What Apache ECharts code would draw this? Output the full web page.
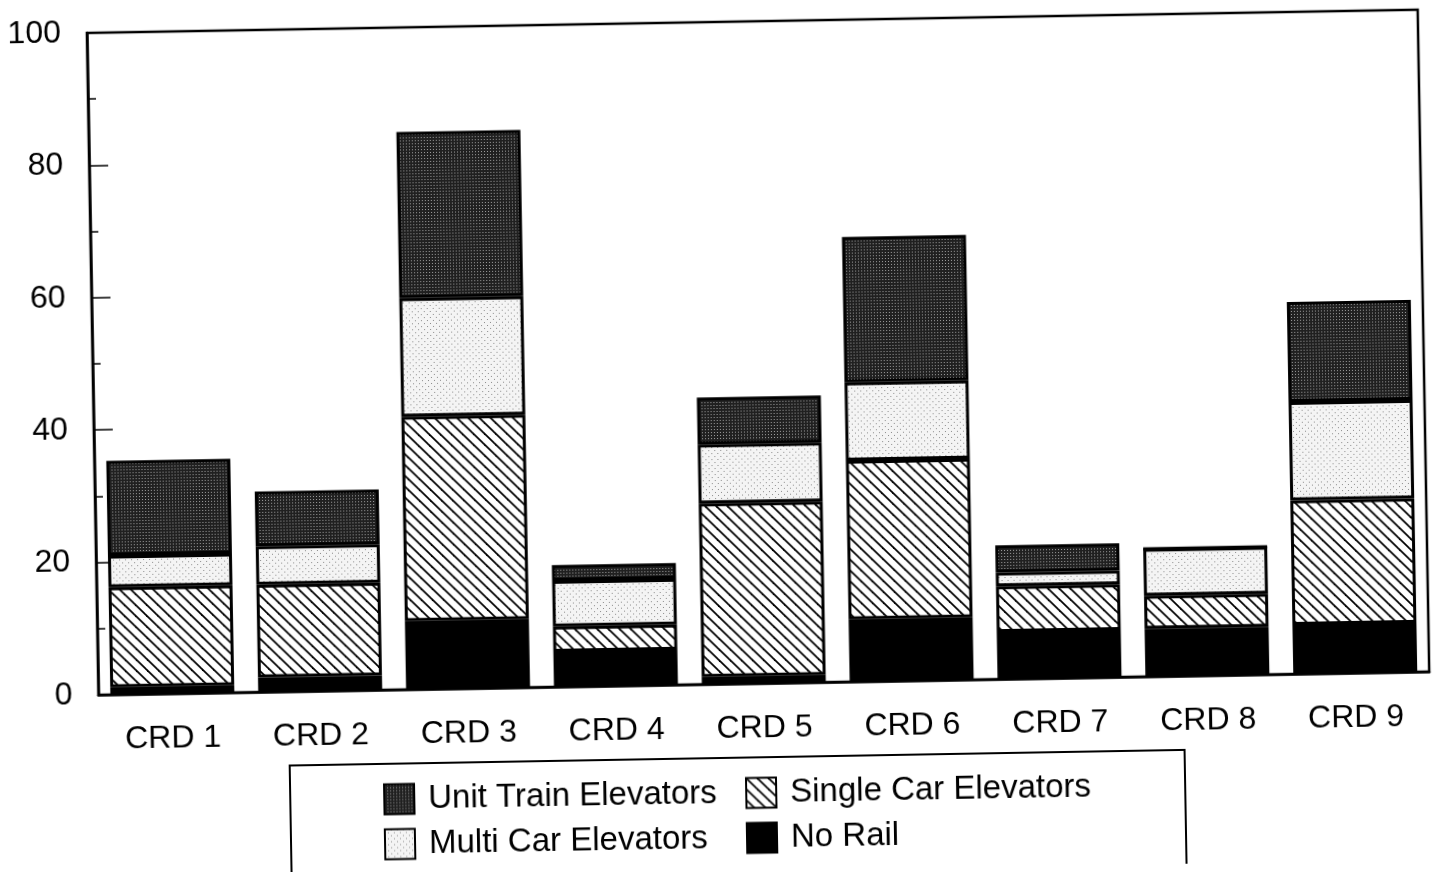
<!DOCTYPE html>
<html>
<head>
<meta charset="utf-8">
<script src="https://cdn.jsdelivr.net/npm/echarts@6/dist/echarts.min.js"></script>
<style>
html,body{margin:0;padding:0;background:#fff;overflow:hidden;}
#main{width:1435px;height:872px;transform:rotate(-1deg);transform-origin:50% 50%;}
</style>
</head>
<body>
<div id="main"></div>
<script>
// ---- data ----
const categories = ['CRD 1','CRD 2','CRD 3','CRD 4','CRD 5','CRD 6','CRD 7','CRD 8','CRD 9'];
const noRail     = [1.1, 2.2, 10.3, 5.3, 1.1,  9.4, 7.1, 7.2,  7.4];
const singleCar  = [15.1, 14.0, 30.9, 3.8, 26.2, 24.0, 6.9, 5.0, 18.8];
const multiCar   = [4.8, 5.8, 17.9, 6.9, 8.9, 11.8, 2.1, 7.1, 14.9];
const unitTrain  = [14.3, 8.3, 25.1, 2.4, 7.1, 22.0, 4.1, 0, 15.1];
const yTicks = [0, 20, 40, 60, 80, 100];

// ---- patterns ----
function makeCanvas(w, h) { const c = document.createElement('canvas'); c.width = w; c.height = h; return c; }
function hatchPattern() {
  const s = 11, c = makeCanvas(s, s), g = c.getContext('2d');
  g.fillStyle = '#fff'; g.fillRect(0, 0, s, s);
  g.strokeStyle = '#000'; g.lineWidth = 1.8;
  for (let k = -1; k <= 1; k++) { g.beginPath(); g.moveTo(k * s - 1, -1); g.lineTo(k * s + s + 1, s + 1); g.stroke(); }
  return c;
}
function stipple(base, dot, dense) {
  const s = 6, c = makeCanvas(s, s), g = c.getContext('2d');
  g.fillStyle = base; g.fillRect(0, 0, s, s);
  g.fillStyle = dot;
  g.fillRect(0, 0, 1, 1); g.fillRect(3, 3, 1, 1);
  if (dense) { g.fillRect(3, 0, 1, 1); g.fillRect(0, 3, 1, 1); }
  return c;
}
const darkStip = { image: stipple('#202020', '#a0a0a0', true), repeat: 'repeat' };
const lightStip = { image: stipple('#f4f4f4', '#8a8a8a', false), repeat: 'repeat' };
const hatch = { image: hatchPattern(), repeat: 'repeat' };

const chart = echarts.init(document.getElementById('main'));
const border = { borderColor: '#000', borderWidth: 3 };
function bar(name, data, color) {
  return { name, type: 'bar', stack: 'all', data, barWidth: 124,
    itemStyle: Object.assign({ color }, border), emphasis: { disabled: true } };
}
const font = 'Liberation Sans, Arial, sans-serif';
const legendCommon = {
  orient: 'vertical', itemWidth: 30, itemHeight: 30, itemGap: 12,
  icon: 'rect', selectedMode: false,
  textStyle: { fontSize: 33, color: '#000', fontFamily: font, padding: [0, 0, 0, 9] },
  itemStyle: { borderColor: '#000', borderWidth: 2 }
};
chart.setOption({
  animation: false,
  backgroundColor: '#fff',
  grid: { left: 94, right: 10, top: 22, bottom: 188, show: true, borderColor: '#000', borderWidth: 2.5, backgroundColor: 'transparent' },
  legend: [
    Object.assign({ data: ['Unit Train Elevators', 'Multi Car Elevators'], left: 372, top: 772 }, legendCommon),
    Object.assign({ data: ['Single Car Elevators', 'No Rail'], left: 734, top: 772 }, legendCommon)
  ],
  graphic: [{
    type: 'rect', shape: { x: 284, y: 758, width: 895, height: 140 },
    style: { fill: 'none', stroke: '#000', lineWidth: 2 }, silent: true, z: 100
  }],
  xAxis: {
    type: 'category', data: categories,
    axisLine: { lineStyle: { color: '#000', width: 2.5 } },
    axisTick: { show: false },
    axisLabel: { fontSize: 32, color: '#000', fontFamily: font, margin: 29 }
  },
  yAxis: {
    type: 'value', min: yTicks[0], max: yTicks[yTicks.length - 1], interval: 20,
    axisLine: { show: true, lineStyle: { color: '#000', width: 2.5 } },
    axisTick: { show: true, inside: true, length: 19, lineStyle: { color: '#000', width: 1.5 } },
    minorTick: { show: true, splitNumber: 2, length: 8, lineStyle: { color: '#000', width: 1.5 } },
    splitLine: { show: false },
    axisLabel: { fontSize: 32, color: '#000', fontFamily: font, margin: 26 }
  },
  series: [
    bar('No Rail', noRail, '#000'),
    bar('Single Car Elevators', singleCar, hatch),
    bar('Multi Car Elevators', multiCar, lightStip),
    bar('Unit Train Elevators', unitTrain, darkStip)
  ]
});
</script>
</body>
</html>
